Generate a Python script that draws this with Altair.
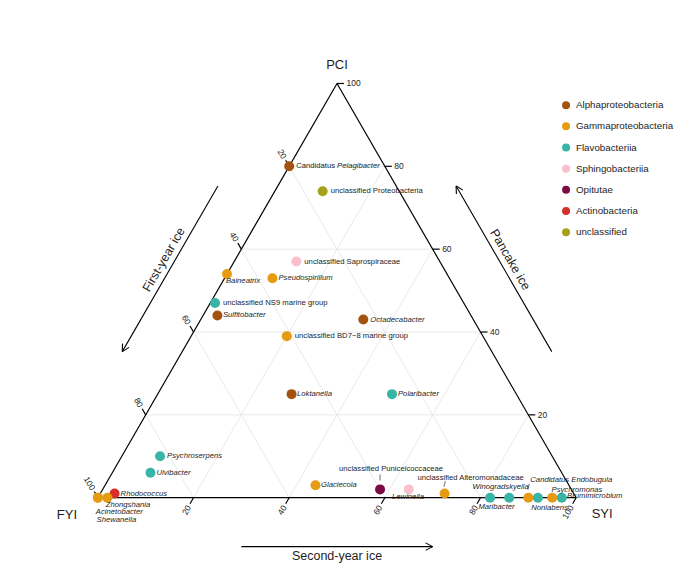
import math
import altair as alt
import pandas as pd

# ---------------- data ----------------
taxa = ["Candidatus Pelagibacter", "unclassified Proteobacteria", "unclassified Saprospiraceae",
        "Baineatrix", "Pseudospirillum", "unclassified NS9 marine group", "Sulfitobacter",
        "Octadecabacter", "unclassified BD7\u22128 marine group", "Loktanella", "Polaribacter",
        "Psychroserpens", "Ulvibacter", "Rhodococcus", "Zhongshania", "Acinetobacter",
        "Shewanella", "Glaciecola", "unclassified Puniceicoccaceae", "Lewinella",
        "unclassified Alteromonadaceae", "Maribacter", "Winogradskyella",
        "Candidatus Endobugula", "Nonlabens", "Psychromonas", "Brumimicrobium"]

A, G, F, S, O, AC, U = ("Alphaproteobacteria", "Gammaproteobacteria", "Flavobacteriia",
                        "Sphingobacteriia", "Opitutae", "Actinobacteria", "unclassified")
classes = [A, U, S, G, G, F, A, A, G, A, F, F, F, AC, G, G, G, G, O, S, G, F, F, G, F, G, F]

fyi = [20, 16, 30, 46, 37, 52, 53, 23, 41, 47, 26, 82, 86, 96, 98, 100, 100, 53, 40, 34, 27, 18, 14, 10, 8, 5, 3]
pci = [80, 74, 57, 54, 53, 47, 44, 43, 39, 25, 25, 10, 6, 1, 0, 0, 0, 3, 2, 2, 1, 0, 0, 0, 0, 0, 0]
syi = [0, 10, 13, 0, 10, 1, 3, 34, 20, 28, 49, 8, 8, 3, 2, 0, 0, 44, 58, 64, 72, 82, 86, 90, 92, 95, 97]

class_order = [A, G, F, S, O, AC, U]
class_colors = ["#A3530F", "#E69B13", "#38B5A6", "#F9BFCB", "#7A0C45", "#D7302B", "#A5A11B"]

tick_values = [20, 40, 60, 80, 100]
grid_values = [20, 40, 60, 80]

# ---------------- layout (pixels) ----------------
SC = 4.79          # px per ternary unit
W, H = 670, 560
VX, VY = 90, 490   # left vertex inside plot area
XDOM = [-VX / SC, (W - VX) / SC]
YDOM = [(VY - H) / SC, VY / SC]
R3 = math.sqrt(3) / 2
FONT = "Liberation Sans"

# label offsets in px from the point: (dx, dy, align)
LABEL_POS = {
    "Candidatus Pelagibacter": (7, 0, "left"),
    "unclassified Proteobacteria": (8, 0, "left"),
    "unclassified Saprospiraceae": (8, 0, "left"),
    "Baineatrix": (-1, 7, "left"),
    "Pseudospirillum": (6, 0, "left"),
    "unclassified NS9 marine group": (8, 0, "left"),
    "Sulfitobacter": (5.5, 0, "left"),
    "Octadecabacter": (7, 0, "left"),
    "unclassified BD7\u22128 marine group": (8, 0, "left"),
    "Loktanella": (5.5, 0, "left"),
    "Polaribacter": (6, 0, "left"),
    "Psychroserpens": (7, 0, "left"),
    "Ulvibacter": (6, 0, "left"),
    "Rhodococcus": (6, 0, "left"),
    "Zhongshania": (-1.6, 7.7, "left"),
    "Acinetobacter": (-2, 14, "left"),
    "Shewanella": (-1.3, 22, "left"),
    "Glaciecola": (5.5, 0, "left"),
    "unclassified Puniceicoccaceae": (11, -20, "center"),
    "Lewinella": (-16.7, 7.4, "left"),
    "unclassified Alteromonadaceae": (26, -16, "center"),
    "Maribacter": (-11.7, 9.7, "left"),
    "Winogradskyella": (-36.7, -10.4, "left"),
    "Candidatus Endobugula": (2, -18, "left"),
    "Nonlabens": (-6.7, 10.3, "left"),
    "Psychromonas": (-0.7, -8, "left"),
    "Brumimicrobium": (5.3, -1.4, "left"),
}
LEADERS = {
    "unclassified Puniceicoccaceae": ((0, -15), (0, -9)),
    "unclassified Alteromonadaceae": ((0.7, -12.6), (-0.7, -6.6)),
    "Candidatus Endobugula": ((1, -13.7), (-0.6, -8)),
}


def tern(f, p, s):
    t = f + p + s
    return ((s + p / 2) / t * 100, p / t * 100 * R3)


def off(pt, dx, dy):
    return (pt[0] + dx / SC, pt[1] - dy / SC)


xs = alt.Scale(domain=XDOM, nice=False, zero=False)
ys = alt.Scale(domain=YDOM, nice=False, zero=False)


def rules(segs, color, width):
    df = pd.DataFrame([{"x": a[0], "y": a[1], "x2": b[0], "y2": b[1]} for a, b in segs])
    return alt.Chart(df).mark_rule(color=color, strokeWidth=width).encode(
        x=alt.X("x:Q", scale=xs, axis=None), y=alt.Y("y:Q", scale=ys, axis=None),
        x2="x2:Q", y2="y2:Q")


def texts(rows, **kw):
    df = pd.DataFrame(rows, columns=["x", "y", "t"])
    return alt.Chart(df).mark_text(font=FONT, baseline="middle", **kw).encode(
        x=alt.X("x:Q", scale=xs, axis=None), y=alt.Y("y:Q", scale=ys, axis=None), text="t:N")


L, R, T = tern(100, 0, 0), tern(0, 0, 100), tern(0, 100, 0)

# grid
grid = []
for v in grid_values:
    grid.append((tern(100 - v, v, 0), tern(0, v, 100 - v)))
    grid.append((tern(100 - v, 0, v), tern(0, 100 - v, v)))
    grid.append((tern(v, 0, 100 - v), tern(v, 100 - v, 0)))
edges = [(L, R), (R, T), (T, L)]

# ticks
TL, GAP = 7, 2.5
tick_segs, lab_right, lab_bottom, lab_left = [], [], [], []
for v in tick_values:
    b = tern(0, v, 100 - v)
    tick_segs.append((b, off(b, TL, 0)))
    lab_right.append((*off(b, TL + GAP, 0), str(v)))
    b = tern(100 - v, 0, v)
    tick_segs.append((b, off(b, -0.5 * TL, R3 * TL)))
    lab_bottom.append((*off(b, -0.5 * (TL + GAP), R3 * (TL + GAP)), str(v)))
    b = tern(v, 100 - v, 0)
    tick_segs.append((b, off(b, -0.5 * TL, -R3 * TL)))
    lab_left.append((*off(b, -0.5 * (TL + GAP), -R3 * (TL + GAP)), str(v)))


# arrows
def along(p, q, t, n, dist):
    return (p[0] + t * (q[0] - p[0]) + n[0] * dist / SC, p[1] + t * (q[1] - p[1]) + n[1] * dist / SC)


def arrow(tail, tip, head=8, ang=28):
    dx, dy = tip[0] - tail[0], tip[1] - tail[1]
    ln = math.hypot(dx, dy)
    ux, uy = -dx / ln, -dy / ln
    segs = [(tail, tip)]
    for a in (ang, -ang):
        r = math.radians(a)
        bx = ux * math.cos(r) - uy * math.sin(r)
        by = ux * math.sin(r) + uy * math.cos(r)
        segs.append((tip, (tip[0] + bx * head / SC, tip[1] + by * head / SC)))
    return segs


nL, nR, nB = (-R3, 0.5), (R3, 0.5), (0, -1)
arrow_segs = []
arrow_segs += arrow(along(L, T, 0.69, nL, 52), along(L, T, 0.29, nL, 52))
arrow_segs += arrow(along(R, T, 0.29, nR, 52), along(R, T, 0.69, nR, 52))
arrow_segs += arrow(along(L, R, 0.30, nB, 49), along(L, R, 0.70, nB, 49))

# points
pts = pd.DataFrame({"name": taxa, "cls": classes})
xy = [tern(f, p, s) for f, p, s in zip(fyi, pci, syi)]
pts["x"] = [c[0] for c in xy]
pts["y"] = [c[1] for c in xy]

# labels
italic_left, normal_left, normal_center = [], [], []
leader_segs = []
for name, c in zip(taxa, xy):
    dx, dy, al = LABEL_POS[name]
    pos = off(c, dx, dy)
    if name == "Candidatus Pelagibacter":
        normal_left.append((*pos, "Candidatus"))
        italic_left.append((*off(c, dx + 41, dy), "Pelagibacter"))
    elif name.startswith("unclassified"):
        (normal_center if al == "center" else normal_left).append((*pos, name))
    else:
        italic_left.append((*pos, name))
    if name in LEADERS:
        a, b = LEADERS[name]
        leader_segs.append((off(c, *a), off(c, *b)))

TXT = "#1e1e1e"
layers = [
    rules(grid, "#e3e3e3", 0.8),
    rules(edges, "#000000", 1.2),
    rules(tick_segs, "#000000", 1.2),
    rules(arrow_segs, "#000000", 1.1),
    rules(leader_segs, "#333333", 0.7),
    texts(lab_right, align="left", fontSize=8.5, color=TXT),
    texts(lab_bottom, align="right", angle=300, fontSize=8.5, color=TXT),
    texts(lab_left, align="right", angle=60, fontSize=8.5, color=TXT),
    texts([(*off(T, 0, -19), "PCI"), (*off(L, -31, 17), "FYI"), (*off(R, 26, 16), "SYI")],
          align="center", fontSize=13, color=TXT),
    texts([(*along(L, T, 0.5, nL, 62), "First-year ice")], align="center", angle=300, fontSize=12.5, color=TXT),
    texts([(*along(R, T, 0.5, nR, 62), "Pancake ice")], align="center", angle=60, fontSize=12.5, color=TXT),
    texts([(*along(L, R, 0.5, nB, 58), "Second-year ice")], align="center", fontSize=12.5, color=TXT),
    alt.Chart(pts).mark_circle(size=100, opacity=1).encode(
        x=alt.X("x:Q", scale=xs, axis=None), y=alt.Y("y:Q", scale=ys, axis=None),
        color=alt.Color("cls:N", scale=alt.Scale(domain=class_order, range=class_colors),
                        legend=alt.Legend(title=None, orient="none", legendX=554, legendY=92,
                                          symbolSize=64, symbolType="circle", symbolStrokeWidth=0,
                                          symbolOpacity=1, labelFont=FONT, labelFontSize=9.8,
                                          labelColor=TXT, rowPadding=10.2, labelOffset=5, padding=0,
                                          labelLimit=200))),
    texts(italic_left, align="left", fontStyle="italic", fontSize=7.7, color=TXT),
    texts(normal_left, align="left", fontSize=7.7, color=TXT),
    texts(normal_center, align="center", fontSize=7.7, color=TXT),
]

chart = alt.layer(*layers).properties(
    width=W, height=H, padding=0, autosize=alt.AutoSizeParams(type="none")
).configure_view(stroke=None)

chart.save("out.html", embed_options={"renderer": "svg", "actions": False})
